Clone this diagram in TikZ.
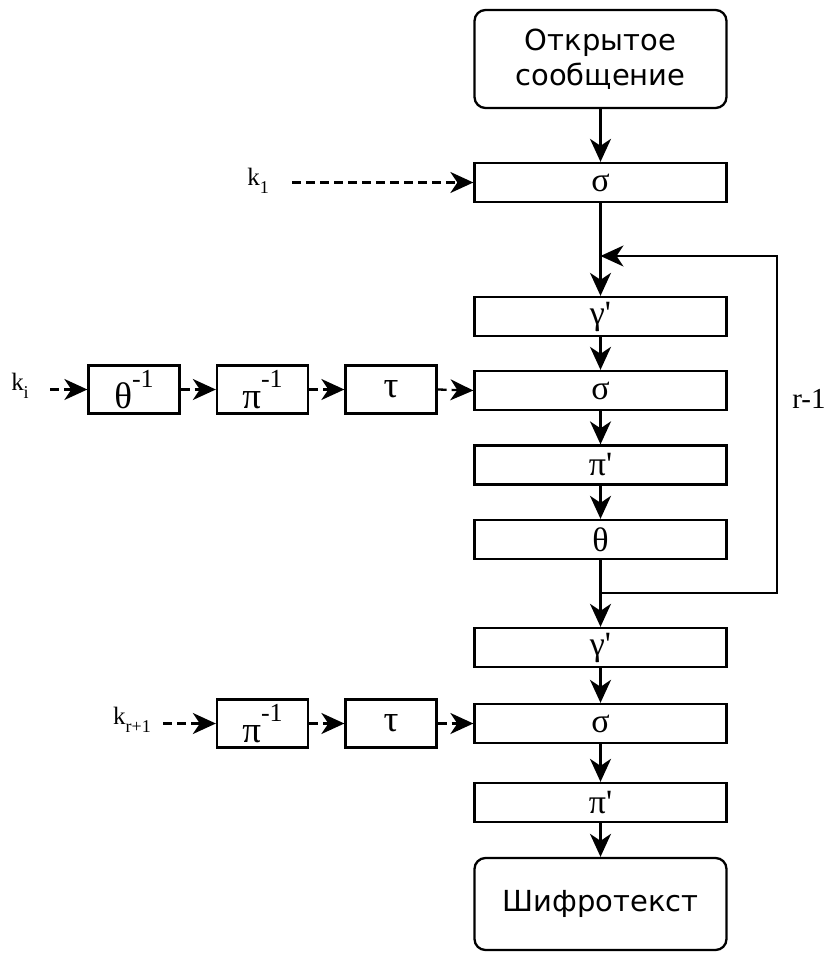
\documentclass[tikz,border=0pt]{standalone}
\usepackage{fontspec}
\setmainfont{Liberation Serif}
\newfontfamily\rufont{DejaVu Sans}
\usetikzlibrary{arrows.meta}

% sub- and superscripts set as text
\newcommand\lowidx[1]{\raisebox{-0.32em}{\fontsize{18}{18}\selectfont #1}}
\newcommand\highidx[1]{\raisebox{0.55em}{\fontsize{26}{26}\selectfont #1}}
\newcommand\prm{\textquotesingle}

\begin{document}
\begin{tikzpicture}[x=1pt,y=-1pt,
  every path/.style={line width=2.3pt},
  tip/.style={-{Stealth[length=23pt,width=21pt,inset=7pt]}},
  flow/.style={draw,tip},
  keyflow/.style={draw,tip,dash pattern=on 9pt off 5pt},
  stage/.style={draw,line width=2.3pt,rectangle,inner sep=0pt,
    minimum width=252pt,minimum height=39pt,
    font=\fontsize{34}{36}\selectfont},
  keybox/.style={draw,line width=2.3pt,rectangle,inner sep=0pt,
    minimum width=91pt,minimum height=48pt,
    font=\fontsize{37}{40}\selectfont},
  term/.style={draw,line width=2.3pt,rectangle,rounded corners=11pt,inner sep=0pt,
    minimum width=252pt,align=center,
    font=\rufont\fontsize{29}{35}\selectfont},
  keylabel/.style={inner sep=0pt,font=\fontsize{25}{28}\selectfont},
]
\useasboundingbox (0,0) rectangle (828,957);

% main column
\node[term,minimum height=98pt] (pt) at (600.5,59) {Открытое\\сообщение};
\node[stage] (s1) at (600.5,182.5) {σ};

\node[stage] (g1) at (600.5,316.5) {γ\prm};
\node[stage] (s2) at (600.5,390.5) {σ};
\node[stage] (p1) at (600.5,465) {π\prm};
\node[stage] (th) at (600.5,539.5) {θ};

\node[stage] (g2) at (600.5,647.5) {γ\prm};
\node[stage] (s3) at (600.5,723.5) {σ};
\node[stage] (p2) at (600.5,802.5) {π\prm};
\node[term,minimum height=92pt] (ct) at (600.5,904) {Шифротекст};

% round key preparation, inner rounds
\node[keybox] (ti) at (134,389.5) {θ\highidx{-1}};
\node[keybox] (pi) at (262.5,389.5) {π\highidx{-1}};
\node[keybox] (ui) at (391,389.5) {τ};

% round key preparation, last round
\node[keybox] (pl) at (262.5,723.5) {π\highidx{-1}};
\node[keybox] (ul) at (391,723.5) {τ};

% key labels
\node[keylabel] (k1) at (258,181) {k\lowidx{1}};
\node[keylabel] (ki) at (20,386) {k\lowidx{i}};
\node[keylabel] (kl) at (132,720) {k\lowidx{r+1}};
\node[inner sep=0pt,font=\fontsize{29}{32}\selectfont] (rl) at (809,399) {r-1};

% connector end points
\coordinate (k1s) at (292,182.5);
\coordinate (kis) at (50,389.5);
\coordinate (kls) at (163,723.5);
\coordinate (jn) at (600.5,593);
\coordinate (lb) at (777,593);
\coordinate (lt) at (777,256);
\coordinate (lin) at (600.5,256);

% main data path
\path[flow] (pt) -- (s1);
\path[flow] (s1) -- (g1);
\path[flow] (g1) -- (s2);
\path[flow] (s2) -- (p1);
\path[flow] (p1) -- (th);
\path[flow] (th.south) -- (jn) -- (g2.north);
\path[flow] (g2) -- (s3);
\path[flow] (s3) -- (p2);
\path[flow] (p2) -- (ct);

% round loop
\path[flow] (jn) -- (lb) -- (lt) -- (lin);

% key inputs
\path[keyflow] (k1s) -- (s1.west);
\path[keyflow] (kis) -- (ti.west);
\path[keyflow] (ti.east) -- (pi.west);
\path[keyflow] (pi.east) -- (ui.west);
\path[keyflow] (ui.east) -- (s2.west);
\path[keyflow] (kls) -- (pl.west);
\path[keyflow] (pl.east) -- (ul.west);
\path[keyflow] (ul.east) -- (s3.west);
\end{tikzpicture}
\end{document}
